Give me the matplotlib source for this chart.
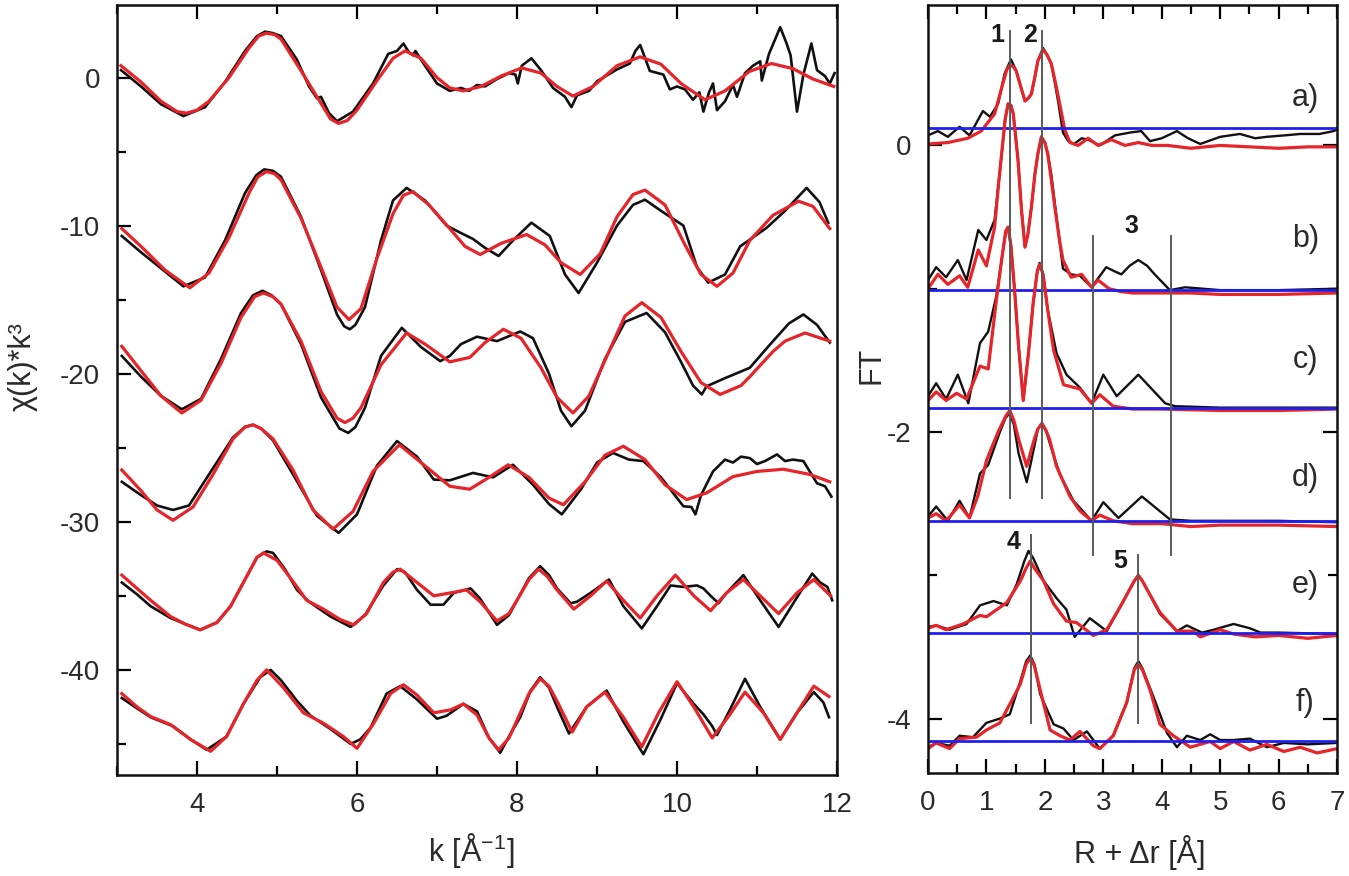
import numpy as np
import matplotlib.pyplot as plt
from matplotlib.ticker import MultipleLocator

plt.rcParams['font.family'] = ['Liberation Sans', 'DejaVu Sans']
plt.rcParams['mathtext.default'] = 'regular'
plt.rcParams['axes.unicode_minus'] = False

# ---- EXAFS chi(k)*k^3, experiment (black) and fit (red), offset stacks ----
exp1 = [(3.05, 0.5), (3.3, -0.6), (3.55, -1.8), (3.83, -2.6), (4.1, -2.0), (4.35, -0.3), (4.6, 1.8),
        (4.75, 2.8), (4.85, 3.1), (4.95, 3.0), (5.05, 2.8), (5.25, 1.2), (5.4, -0.6), (5.5, -1.4),
        (5.55, -1.3), (5.65, -2.4), (5.75, -2.95), (5.95, -2.3), (6.2, -0.4), (6.39, 1.6), (6.5, 1.8),
        (6.58, 2.3), (6.65, 1.7), (6.7, 1.5), (6.73, 1.8), (6.85, 0.8), (7.0, -0.4), (7.16, -0.9),
        (7.3, -0.7), (7.4, -0.9), (7.5, -0.5), (7.6, -0.6), (7.75, -0.1), (7.9, 0.3), (7.98, 0.2),
        (8.01, -0.4), (8.06, 0.8), (8.18, 1.3), (8.3, 0.5), (8.45, -0.7), (8.6, -1.3), (8.68, -2.0),
        (8.75, -1.2), (8.9, -0.9), (9.0, -0.25), (9.25, 0.55), (9.41, 0.95), (9.48, 1.8), (9.54, 2.2),
        (9.66, 0.45), (9.83, 0.2), (9.91, -0.8), (10.0, -0.6), (10.1, -0.8), (10.2, -1.5), (10.28, -1.0),
        (10.33, -2.3), (10.4, -1.0), (10.45, -0.4), (10.5, -2.2), (10.6, -1.6), (10.7, -0.5),
        (10.75, -1.3), (10.85, 0.3), (10.95, 0.8), (11.04, 1.1), (11.06, -0.2), (11.15, 1.6),
        (11.29, 3.4), (11.37, 2.3), (11.42, 1.5), (11.5, -2.3), (11.58, 0.2), (11.68, 2.3), (11.75, 0.5),
        (11.85, 0.1), (11.91, -0.4), (11.97, 0.3)]
fit1 = [(3.05, 0.8), (3.3, -0.3), (3.55, -1.6), (3.75, -2.3), (3.87, -2.4), (4.0, -2.2), (4.15, -1.6),
        (4.4, 0.0), (4.65, 2.0), (4.77, 2.8), (4.87, 3.0), (4.97, 2.9), (5.05, 2.6), (5.29, 0.55),
        (5.5, -1.3), (5.67, -2.8), (5.77, -3.1), (5.88, -2.9), (6.0, -2.2), (6.25, -0.2), (6.45, 1.3),
        (6.6, 1.8), (6.8, 1.3), (7.0, 0.0), (7.16, -0.7), (7.33, -0.9), (7.55, -0.6), (7.8, 0.1),
        (8.06, 0.65), (8.3, 0.3), (8.5, -0.6), (8.7, -1.25), (8.95, -0.6), (9.25, 0.8), (9.54, 1.4),
        (9.8, 0.9), (10.05, -0.4), (10.35, -1.5), (10.6, -0.9), (10.9, 0.4), (11.18, 0.95),
        (11.45, 0.6), (11.7, -0.1), (11.96, -0.6)]

exp2 = [(3.06, -10.7), (3.3, -11.8), (3.6, -13.1), (3.83, -14.1), (4.1, -13.5), (4.35, -11.0),
        (4.6, -7.8), (4.74, -6.6), (4.84, -6.2), (4.95, -6.3), (5.05, -6.7), (5.3, -9.4), (5.55, -13.0),
        (5.75, -16.0), (5.84, -16.8), (5.91, -17.0), (5.98, -16.7), (6.1, -15.5), (6.3, -11.0),
        (6.45, -8.3), (6.62, -7.45), (6.85, -8.3), (7.12, -10.0), (7.3, -10.5), (7.45, -10.9),
        (7.6, -11.5), (7.77, -12.05), (7.95, -11.0), (8.18, -9.8), (8.41, -10.7), (8.6, -13.3),
        (8.77, -14.55), (9.0, -12.5), (9.25, -10.0), (9.45, -8.6), (9.6, -8.25), (9.8, -9.0),
        (10.08, -10.0), (10.25, -12.8), (10.39, -13.85), (10.6, -13.3), (10.79, -11.4), (11.12, -10.15),
        (11.35, -9.0), (11.62, -7.45), (11.78, -8.4), (11.89, -9.8)]
fit2 = [(3.06, -10.2), (3.3, -11.4), (3.6, -13.0), (3.91, -14.2), (4.15, -13.2), (4.4, -10.8),
        (4.65, -7.8), (4.76, -6.7), (4.87, -6.35), (4.97, -6.5), (5.05, -6.9), (5.3, -9.5),
        (5.55, -12.8), (5.75, -15.5), (5.9, -16.35), (6.05, -15.6), (6.25, -12.2), (6.45, -9.2),
        (6.58, -7.95), (6.7, -7.7), (6.9, -8.6), (7.16, -10.2), (7.35, -11.4), (7.54, -11.95),
        (7.8, -11.2), (8.12, -10.6), (8.35, -11.3), (8.55, -12.5), (8.79, -13.3), (9.04, -11.9),
        (9.25, -9.4), (9.45, -7.9), (9.6, -7.6), (9.85, -8.6), (10.1, -11.3), (10.3, -13.3),
        (10.5, -14.1), (10.7, -13.2), (10.91, -11.0), (11.2, -9.3), (11.52, -8.35), (11.7, -8.7),
        (11.91, -10.2)]

exp3 = [(3.06, -18.8), (3.3, -20.2), (3.55, -21.5), (3.81, -22.4), (4.05, -21.7), (4.3, -19.0),
        (4.55, -15.9), (4.7, -14.7), (4.82, -14.4), (4.93, -14.7), (5.05, -15.3), (5.3, -18.0),
        (5.55, -21.6), (5.78, -23.7), (5.89, -24.0), (5.98, -23.6), (6.1, -22.3), (6.3, -18.8),
        (6.56, -16.9), (6.8, -18.2), (7.04, -19.15), (7.16, -18.8), (7.3, -18.0), (7.5, -17.5),
        (7.75, -17.8), (8.04, -17.15), (8.2, -17.6), (8.4, -20.0), (8.55, -22.5), (8.68, -23.55),
        (8.85, -22.5), (9.1, -19.0), (9.35, -16.5), (9.62, -15.9), (9.85, -17.2), (10.05, -19.2),
        (10.2, -20.8), (10.31, -21.4), (10.37, -20.85), (10.6, -20.3), (10.91, -19.6), (11.2, -17.8),
        (11.4, -16.6), (11.58, -16.0), (11.75, -16.7), (11.91, -17.9)]
fit3 = [(3.06, -18.15), (3.3, -19.8), (3.55, -21.5), (3.81, -22.65), (4.05, -21.8), (4.3, -19.3),
        (4.55, -16.2), (4.72, -14.8), (4.83, -14.55), (4.95, -14.8), (5.05, -15.3), (5.3, -17.8),
        (5.55, -21.2), (5.75, -23.0), (5.85, -23.3), (5.95, -23.0), (6.05, -22.3), (6.3, -19.4),
        (6.62, -17.25), (6.85, -18.0), (7.16, -19.2), (7.41, -18.9), (7.6, -17.9), (7.83, -17.0),
        (8.05, -17.6), (8.3, -19.6), (8.5, -21.6), (8.7, -22.65), (8.9, -21.5), (9.15, -18.5),
        (9.35, -16.1), (9.56, -15.2), (9.8, -16.2), (10.05, -18.5), (10.3, -20.6), (10.54, -21.4),
        (10.8, -20.8), (10.91, -20.2), (11.2, -18.5), (11.35, -17.8), (11.6, -17.25), (11.91, -17.8)]

exp4 = [(3.06, -27.3), (3.3, -28.2), (3.5, -28.9), (3.7, -29.2), (3.9, -28.9), (4.15, -26.8),
        (4.45, -24.3), (4.6, -23.6), (4.7, -23.45), (4.8, -23.7), (4.95, -24.5), (5.2, -26.8),
        (5.5, -29.6), (5.77, -30.75), (6.0, -29.5), (6.25, -26.2), (6.5, -24.55), (6.75, -25.6),
        (6.96, -27.15), (7.16, -27.2), (7.45, -26.7), (7.7, -27.0), (7.95, -26.15), (8.2, -27.5),
        (8.4, -28.8), (8.56, -29.5), (8.8, -27.8), (9.0, -26.0), (9.2, -25.35), (9.4, -25.8),
        (9.58, -25.9), (9.8, -27.0), (10.08, -28.95), (10.18, -29.0), (10.23, -29.5), (10.3, -28.2),
        (10.45, -26.6), (10.6, -25.8), (10.7, -26.0), (10.8, -25.6), (10.91, -25.7), (11.0, -26.1),
        (11.1, -25.9), (11.25, -25.45), (11.35, -25.9), (11.45, -25.8), (11.58, -25.9), (11.75, -27.4),
        (11.85, -27.6), (11.93, -28.3)]
fit4 = [(3.06, -26.5), (3.3, -27.9), (3.5, -29.2), (3.7, -29.9), (3.95, -29.0), (4.2, -26.8),
        (4.45, -24.4), (4.6, -23.6), (4.7, -23.45), (4.8, -23.7), (4.95, -24.4), (5.2, -26.5),
        (5.45, -29.2), (5.7, -30.5), (5.95, -29.3), (6.2, -26.6), (6.53, -24.8), (6.8, -26.0),
        (7.16, -27.6), (7.41, -27.8), (7.65, -27.0), (7.89, -26.15), (8.15, -27.0), (8.4, -28.4),
        (8.58, -28.85), (8.85, -27.3), (9.1, -25.5), (9.33, -24.9), (9.6, -25.8), (9.85, -27.5),
        (10.12, -28.5), (10.37, -28.05), (10.7, -26.95), (11.0, -26.6), (11.33, -26.45), (11.66, -26.8),
        (11.91, -27.3)]

exp5 = [(3.06, -34.1), (3.25, -34.9), (3.42, -35.7), (3.67, -36.5), (3.85, -36.9), (4.04, -37.3),
        (4.25, -36.8), (4.42, -35.7), (4.62, -33.7), (4.75, -32.4), (4.87, -32.0), (4.95, -32.1),
        (5.1, -33.2), (5.25, -34.6), (5.4, -35.4), (5.67, -36.4), (5.92, -37.1), (6.1, -36.3),
        (6.33, -34.3), (6.5, -33.2), (6.6, -33.4), (6.75, -34.6), (6.92, -35.6), (7.08, -35.6),
        (7.21, -34.8), (7.42, -34.5), (7.54, -35.2), (7.75, -36.96), (7.9, -36.3), (8.0, -35.3),
        (8.15, -33.8), (8.29, -33.0), (8.4, -33.6), (8.5, -34.5), (8.67, -35.5), (8.75, -35.4),
        (8.92, -34.8), (9.15, -33.9), (9.33, -35.7), (9.56, -37.2), (9.75, -35.7), (9.92, -34.3),
        (10.08, -34.4), (10.25, -34.3), (10.33, -34.5), (10.42, -35.0), (10.52, -35.5), (10.62, -34.8),
        (10.83, -33.6), (11.04, -35.3), (11.27, -37.1), (11.5, -35.1), (11.69, -33.5), (11.79, -34.1),
        (11.88, -34.4), (11.94, -35.3)]
fit5 = [(3.06, -33.6), (3.25, -34.5), (3.42, -35.3), (3.67, -36.4), (3.85, -36.9), (4.04, -37.3),
        (4.25, -36.8), (4.42, -35.7), (4.62, -33.7), (4.75, -32.4), (4.83, -32.1), (5.0, -32.6),
        (5.21, -34.1), (5.37, -35.3), (5.58, -35.9), (5.79, -36.6), (5.96, -36.96), (6.12, -36.2),
        (6.33, -34.1), (6.45, -33.4), (6.54, -33.2), (6.75, -34.1), (6.96, -35.0), (7.17, -34.8),
        (7.37, -34.6), (7.54, -35.4), (7.75, -36.7), (7.9, -36.2), (8.0, -35.3), (8.15, -33.9),
        (8.27, -33.2), (8.38, -33.7), (8.5, -34.6), (8.71, -35.9), (8.92, -35.0), (9.12, -34.0),
        (9.33, -35.3), (9.54, -36.5), (9.75, -35.0), (9.98, -33.6), (10.21, -35.0), (10.42, -36.0),
        (10.62, -34.8), (10.83, -33.9), (11.04, -35.0), (11.27, -36.2), (11.5, -34.8), (11.71, -33.9),
        (11.92, -35.0)]

exp6 = [(3.06, -41.9), (3.25, -42.6), (3.42, -43.2), (3.7, -43.8), (3.92, -44.7), (4.12, -45.4),
        (4.37, -44.5), (4.58, -42.3), (4.79, -40.5), (4.92, -40.0), (5.05, -40.7), (5.25, -42.1),
        (5.42, -43.1), (5.67, -44.0), (5.92, -45.0), (6.04, -44.7), (6.17, -43.9), (6.37, -41.6),
        (6.54, -41.1), (6.75, -42.0), (7.0, -43.3), (7.12, -43.1), (7.33, -42.3), (7.5, -42.8),
        (7.65, -44.6), (7.79, -45.6), (7.9, -44.5), (8.04, -43.2), (8.17, -41.4), (8.29, -40.5),
        (8.4, -41.2), (8.5, -42.5), (8.65, -44.3), (8.87, -42.5), (9.12, -41.4), (9.33, -43.5),
        (9.58, -45.7), (9.79, -43.4), (10.0, -40.9), (10.21, -42.3), (10.33, -43.0), (10.44, -43.8),
        (10.5, -44.4), (10.67, -42.6), (10.85, -40.6), (11.04, -42.5), (11.29, -44.7), (11.5, -42.9),
        (11.71, -41.5), (11.83, -42.2), (11.9, -43.2)]
fit6 = [(3.06, -41.6), (3.25, -42.5), (3.42, -43.15), (3.67, -43.7), (3.92, -44.7), (4.17, -45.5),
        (4.37, -44.5), (4.58, -42.3), (4.75, -40.7), (4.87, -40.0), (5.08, -41.2), (5.33, -42.9),
        (5.58, -43.6), (5.83, -44.5), (6.0, -45.3), (6.21, -43.6), (6.42, -41.6), (6.58, -41.0),
        (6.75, -41.7), (6.96, -42.9), (7.17, -42.7), (7.33, -42.3), (7.5, -43.05), (7.65, -44.6),
        (7.77, -45.4), (7.9, -44.6), (8.0, -43.4), (8.15, -41.6), (8.29, -40.6), (8.4, -41.1),
        (8.5, -42.1), (8.69, -44.2), (8.87, -42.5), (9.1, -41.5), (9.33, -43.2), (9.56, -45.2),
        (9.77, -42.9), (10.0, -40.8), (10.21, -42.5), (10.44, -44.6), (10.65, -43.1), (10.85, -41.5),
        (11.08, -42.9), (11.29, -44.7), (11.5, -42.9), (11.71, -41.1), (11.9, -41.8)]

# ---- Fourier transforms, experiment (black) and fit (red) ----
ft_exp_a = [(0, 0.07), (0.17, 0.1), (0.34, 0.06), (0.54, 0.13), (0.71, 0.07), (0.94, 0.24), (1.06, 0.2),
            (1.2, 0.29), (1.31, 0.5), (1.42, 0.6), (1.51, 0.52), (1.58, 0.42), (1.66, 0.31), (1.72, 0.33),
            (1.77, 0.36), (1.83, 0.48), (1.88, 0.59), (1.97, 0.68), (2.04, 0.63), (2.11, 0.57),
            (2.17, 0.44), (2.23, 0.3), (2.31, 0.09), (2.4, 0.03), (2.5, 0.01), (2.63, 0.05), (2.74, 0.04),
            (2.94, 0.0), (3.2, 0.07), (3.46, 0.09), (3.65, 0.1), (3.8, 0.03), (4.0, 0.05), (4.26, 0.1),
            (4.45, 0.05), (4.66, 0.01), (5.0, 0.06), (5.34, 0.08), (5.6, 0.05), (5.8, 0.06), (6.1, 0.07),
            (6.37, 0.08), (6.7, 0.08), (6.94, 0.1), (7.0, 0.11)]
ft_fit_a = [(0, 0.01), (0.34, 0.02), (0.68, 0.05), (0.91, 0.1), (1.14, 0.22), (1.28, 0.43), (1.35, 0.53),
            (1.4, 0.56), (1.46, 0.55), (1.51, 0.52), (1.58, 0.42), (1.66, 0.31), (1.72, 0.33),
            (1.77, 0.36), (1.83, 0.48), (1.88, 0.59), (1.97, 0.67), (2.04, 0.63), (2.11, 0.57),
            (2.17, 0.46), (2.23, 0.34), (2.34, 0.11), (2.43, 0.02), (2.57, 0.0), (2.74, 0.05), (2.91, 0.0),
            (3.14, 0.04), (3.37, 0.0), (3.6, 0.02), (3.83, 0.0), (4.1, 0.0), (4.5, -0.02), (5.0, 0.0),
            (5.5, -0.01), (6.0, -0.02), (6.5, -0.01), (7.0, -0.01)]
ft_exp_b = [(0, -0.94), (0.14, -0.85), (0.31, -0.92), (0.51, -0.8), (0.66, -0.94), (0.86, -0.59),
            (1.0, -0.66), (1.14, -0.52), (1.2, -0.3), (1.26, -0.06), (1.32, 0.18), (1.37, 0.29),
            (1.42, 0.28), (1.46, 0.22), (1.54, -0.1), (1.6, -0.45), (1.66, -0.71), (1.71, -0.62),
            (1.77, -0.43), (1.83, -0.2), (1.88, -0.06), (1.94, 0.06), (2.0, 0.02), (2.05, -0.06),
            (2.11, -0.2), (2.2, -0.5), (2.31, -0.86), (2.45, -0.9), (2.6, -0.91), (2.8, -0.99),
            (3.05, -0.85), (3.2, -0.88), (3.31, -0.9), (3.45, -0.84), (3.6, -0.8), (3.75, -0.84),
            (3.88, -0.9), (4.14, -1.01), (4.4, -0.99), (5.0, -1.01), (6.0, -1.01), (7.0, -1.0)]
ft_fit_b = [(0, -1.0), (0.17, -0.9), (0.34, -0.97), (0.54, -0.91), (0.68, -0.99), (0.86, -0.73),
            (1.0, -0.84), (1.14, -0.57), (1.2, -0.3), (1.26, -0.06), (1.32, 0.18), (1.37, 0.29),
            (1.42, 0.28), (1.46, 0.22), (1.54, -0.1), (1.6, -0.45), (1.66, -0.71), (1.71, -0.62),
            (1.77, -0.43), (1.83, -0.2), (1.88, -0.06), (1.94, 0.06), (2.0, 0.02), (2.05, -0.06),
            (2.11, -0.24), (2.17, -0.43), (2.25, -0.66), (2.31, -0.8), (2.45, -0.92), (2.63, -0.9),
            (2.8, -0.99), (2.91, -0.94), (3.1, -1.0), (3.3, -1.02), (3.5, -1.03), (4.0, -1.03),
            (4.5, -1.03), (5.0, -1.04), (6.0, -1.04), (7.0, -1.03)]
ft_exp_c = [(0, -1.75), (0.14, -1.66), (0.31, -1.77), (0.51, -1.6), (0.69, -1.8), (0.89, -1.38),
            (1.03, -1.3), (1.17, -1.05), (1.26, -0.8), (1.33, -0.6), (1.37, -0.57), (1.42, -0.7),
            (1.48, -1.0), (1.55, -1.4), (1.63, -1.78), (1.72, -1.45), (1.8, -1.1), (1.87, -0.88),
            (1.91, -0.82), (1.97, -0.9), (2.05, -1.15), (2.2, -1.45), (2.37, -1.6), (2.6, -1.69),
            (2.8, -1.8), (3.0, -1.6), (3.23, -1.75), (3.6, -1.6), (4.06, -1.8), (4.23, -1.82),
            (5.0, -1.83), (6.0, -1.83), (7.0, -1.83)]
ft_fit_c = [(0, -1.78), (0.14, -1.72), (0.31, -1.78), (0.49, -1.73), (0.66, -1.77), (0.89, -1.54),
            (1.03, -1.56), (1.17, -1.08), (1.26, -0.8), (1.33, -0.6), (1.37, -0.57), (1.42, -0.7),
            (1.48, -1.0), (1.55, -1.4), (1.63, -1.78), (1.72, -1.45), (1.8, -1.1), (1.87, -0.88),
            (1.91, -0.83), (1.97, -0.9), (2.05, -1.15), (2.15, -1.43), (2.32, -1.67), (2.6, -1.7),
            (2.8, -1.8), (2.94, -1.74), (3.17, -1.82), (3.5, -1.84), (4.0, -1.84), (5.0, -1.85),
            (6.0, -1.85), (7.0, -1.84)]
ft_exp_d = [(0, -2.59), (0.14, -2.52), (0.34, -2.62), (0.54, -2.48), (0.71, -2.6), (0.89, -2.29),
            (1.03, -2.23), (1.23, -2.0), (1.33, -1.9), (1.4, -1.87), (1.47, -1.95), (1.55, -2.15),
            (1.69, -2.35), (1.82, -2.1), (1.88, -1.98), (1.95, -1.94), (2.02, -1.99), (2.1, -2.1),
            (2.26, -2.3), (2.49, -2.48), (2.8, -2.62), (3.0, -2.49), (3.26, -2.6), (3.66, -2.45),
            (4.14, -2.61), (4.5, -2.62), (5.0, -2.62), (6.0, -2.62), (7.0, -2.63)]
ft_fit_d = [(0, -2.6), (0.14, -2.57), (0.31, -2.62), (0.54, -2.51), (0.71, -2.6), (0.85, -2.45),
            (1.0, -2.2), (1.2, -2.0), (1.33, -1.89), (1.4, -1.85), (1.47, -1.92), (1.55, -2.05),
            (1.69, -2.24), (1.82, -2.05), (1.88, -1.98), (1.95, -1.94), (2.02, -1.99), (2.08, -2.05),
            (2.2, -2.24), (2.43, -2.45), (2.6, -2.55), (2.8, -2.62), (2.94, -2.58), (3.17, -2.62),
            (3.5, -2.64), (4.0, -2.64), (4.5, -2.66), (5.0, -2.65), (6.0, -2.65), (7.0, -2.66)]
ft_exp_e = [(0, -3.36), (0.14, -3.35), (0.37, -3.38), (0.66, -3.34), (0.89, -3.21), (1.12, -3.18),
            (1.35, -3.21), (1.52, -3.06), (1.65, -2.9), (1.72, -2.83), (1.8, -2.88), (1.98, -3.04),
            (2.2, -3.16), (2.37, -3.24), (2.51, -3.43), (2.77, -3.3), (3.06, -3.39), (3.29, -3.22),
            (3.45, -3.1), (3.53, -3.04), (3.6, -3.0), (3.67, -3.04), (3.75, -3.1), (3.97, -3.27),
            (4.26, -3.39), (4.43, -3.35), (4.69, -3.4), (4.89, -3.38), (5.23, -3.34), (5.51, -3.37),
            (5.69, -3.4), (6.0, -3.4), (7.0, -3.41)]
ft_fit_e = [(0, -3.37), (0.14, -3.35), (0.31, -3.38), (0.6, -3.34), (0.89, -3.28), (1.0, -3.29),
            (1.35, -3.19), (1.58, -3.04), (1.68, -2.95), (1.75, -2.9), (1.82, -2.95), (1.98, -3.04),
            (2.15, -3.2), (2.37, -3.32), (2.54, -3.33), (2.83, -3.42), (3.06, -3.38), (3.29, -3.22),
            (3.45, -3.1), (3.53, -3.04), (3.6, -3.0), (3.67, -3.04), (3.75, -3.1), (3.97, -3.26),
            (4.26, -3.39), (4.54, -3.39), (4.66, -3.43), (5.0, -3.38), (5.23, -3.41), (5.6, -3.43),
            (6.0, -3.42), (6.5, -3.44), (7.0, -3.42)]
ft_exp_f = [(0, -4.2), (0.14, -4.17), (0.37, -4.19), (0.54, -4.12), (0.77, -4.13), (1.0, -4.03),
            (1.23, -4.0), (1.4, -3.97), (1.58, -3.74), (1.68, -3.6), (1.75, -3.56), (1.82, -3.62),
            (1.92, -3.83), (2.15, -4.04), (2.32, -4.07), (2.49, -4.15), (2.72, -4.09), (2.94, -4.21),
            (3.17, -4.12), (3.4, -3.89), (3.53, -3.65), (3.6, -3.6), (3.67, -3.65), (3.86, -3.85),
            (4.09, -4.1), (4.26, -4.2), (4.43, -4.12), (4.66, -4.15), (4.83, -4.11), (5.0, -4.15),
            (5.23, -4.15), (5.51, -4.14), (5.8, -4.2), (6.09, -4.17), (6.5, -4.18), (7.0, -4.17)]
ft_fit_f = [(0, -4.21), (0.14, -4.17), (0.37, -4.21), (0.54, -4.14), (0.83, -4.13), (1.0, -4.08),
            (1.23, -4.03), (1.4, -3.9), (1.58, -3.76), (1.68, -3.62), (1.75, -3.58), (1.82, -3.63),
            (1.92, -3.8), (2.09, -4.08), (2.26, -4.12), (2.43, -4.15), (2.6, -4.09), (2.83, -4.19),
            (2.94, -4.21), (3.17, -4.12), (3.4, -3.89), (3.53, -3.66), (3.6, -3.62), (3.67, -3.66),
            (3.8, -3.8), (3.97, -4.04), (4.2, -4.12), (4.49, -4.2), (4.83, -4.16), (5.0, -4.21),
            (5.23, -4.16), (5.51, -4.22), (5.8, -4.18), (6.09, -4.23), (6.37, -4.2), (6.66, -4.24),
            (7.0, -4.21)]

baselines = [0.12, -1.01, -1.83, -2.62, -3.40, -4.16]
panel_names = ['a)', 'b)', 'c)', 'd)', 'e)', 'f)']
panel_y = [0.33, -0.65, -1.5, -2.32, -3.07, -3.89]
# shell markers: (R, ymin, ymax)
markers = [(1.40, -2.46, 0.80), (1.95, -2.46, 0.80), (2.83, -2.86, -0.63), (4.16, -2.86, -0.63),
           (1.76, -4.03, -2.72), (3.60, -4.03, -2.86)]
marker_labels = [('1', 1.18, 0.77), ('2', 1.75, 0.77), ('3', 3.49, -0.56), ('4', 1.46, -2.77),
                 ('5', 3.29, -2.9)]

BLACK = '#111111'
RED = '#e5252a'
BLUE = '#1f1fee'
TXT = '#2a2a2a'

fig = plt.figure(figsize=(13.49, 8.76), dpi=100)
ax1 = fig.add_axes([117/1349, 1-775/876, 720/1349, 770/876])
ax2 = fig.add_axes([928/1349, 1-773/876, 409/1349, 768/876])

for e, f in [(exp1, fit1), (exp2, fit2), (exp3, fit3), (exp4, fit4), (exp5, fit5), (exp6, fit6)]:
    e = np.array(e).T
    f = np.array(f).T
    ax1.plot(e[0], e[1], color=BLACK, lw=1.9, solid_joinstyle='round')
    ax1.plot(f[0], f[1], color=RED, lw=2.3, solid_joinstyle='round')

ax1.set_xlim(3, 12)
ax1.set_ylim(-47.1, 4.9)
ax1.xaxis.set_major_locator(MultipleLocator(2))
ax1.xaxis.set_minor_locator(MultipleLocator(1))
ax1.yaxis.set_major_locator(MultipleLocator(10))
ax1.yaxis.set_minor_locator(MultipleLocator(5))
ax1.tick_params(which='both', direction='in', top=True, right=False, width=1.6,
                labelsize=20, labelcolor=TXT, pad=12)
ax1.tick_params(which='major', length=10)
ax1.tick_params(which='minor', length=6.5)

ft_pairs = [(ft_exp_a, ft_fit_a), (ft_exp_b, ft_fit_b), (ft_exp_c, ft_fit_c),
            (ft_exp_d, ft_fit_d), (ft_exp_e, ft_fit_e), (ft_exp_f, ft_fit_f)]
for (e, f), b, name, py in zip(ft_pairs, baselines, panel_names, panel_y):
    e = np.array(e).T
    f = np.array(f).T
    ax2.plot(e[0], e[1], color=BLACK, lw=1.7, solid_joinstyle='round')
    ax2.plot(f[0], f[1], color=RED, lw=2.3, solid_joinstyle='round')
    ax2.axhline(b, color=BLUE, lw=2.0)
    ax2.text(6.46, py, name, fontsize=22, color=TXT, ha='center', va='center')

for r, y0, y1 in markers:
    ax2.plot([r, r], [y0, y1], color='#5a5a5a', lw=1.4)
for t, x, y in marker_labels:
    ax2.text(x, y, t, fontsize=18, fontweight='bold', color='#1a1a1a', ha='center', va='center')

ax2.set_xlim(0, 7)
ax2.set_ylim(-4.38, 0.98)
ax2.xaxis.set_major_locator(MultipleLocator(1))
ax2.xaxis.set_minor_locator(MultipleLocator(0.5))
ax2.yaxis.set_major_locator(MultipleLocator(2))
ax2.yaxis.set_minor_locator(MultipleLocator(1))
ax2.tick_params(which='both', direction='in', top=True, right=True, width=1.6,
                labelsize=20, labelcolor=TXT, pad=12)
ax2.tick_params(which='major', length=10)
ax2.tick_params(which='minor', length=6.5)

for ax in (ax1, ax2):
    for s in ax.spines.values():
        s.set_linewidth(1.8)
        s.set_color('#111111')

fig.text(23/1349, 1-367/876, 'χ(k)*k³', rotation=90, fontsize=22, color=TXT, ha='center', va='center')
fig.text(872/1349, 1-365/876, 'FT', rotation=90, fontsize=22, color=TXT, ha='center', va='center')
fig.text(471/1349, 1-850/876, 'k [Å$^{-1}$]', fontsize=22, color=TXT, ha='center', va='center')
fig.text(1140/1349, 1-852/876, 'R + Δr [Å]', fontsize=22, color=TXT, ha='center', va='center')

fig.savefig('out.png', dpi=100)
